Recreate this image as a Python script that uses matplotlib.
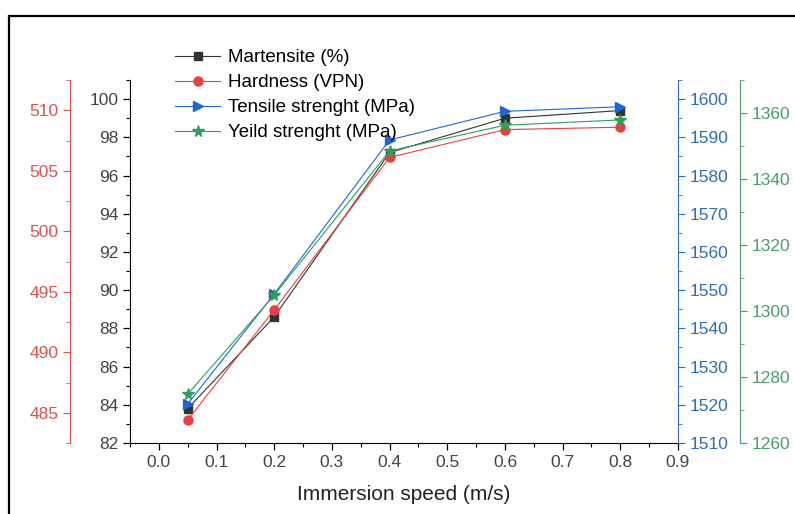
import matplotlib
matplotlib.use("Agg")
import matplotlib.pyplot as plt
from matplotlib.patches import Rectangle
from matplotlib.ticker import MultipleLocator

plt.rcParams['font.family'] = ['Liberation Sans', 'DejaVu Sans']

# Datos
speed = [0.05, 0.2, 0.4, 0.6, 0.8]
martensite = [83.8, 88.6, 97.2, 99.0, 99.4]
hardness = [484.4, 493.5, 506.1, 508.4, 508.6]
tensile = [1520.2, 1549.0, 1589.3, 1596.8, 1598.0]
yield_str = [1274.8, 1304.8, 1348.5, 1356.3, 1357.9]

c_black = '#333333'
c_red = '#e8413f'
c_blue = '#1f66d1'
c_green = '#2e9e5a'
c_red_ax = '#d9534f'
c_blue_ax = '#2f6db5'
c_green_ax = '#4a9e6a'

fs_tick = 12.5

fig = plt.figure(figsize=(7.95, 5.14), dpi=100)
ax = fig.add_axes([130/795, 1-443/514, (678-130)/795, (443-80)/514])

# Marco exterior
fig.patches.append(Rectangle((9/795, -0.1), 1.2, 1-16/514+0.1, transform=fig.transFigure,
                             fill=False, lw=1.6, ec='black'))

l1, = ax.plot(speed, martensite, '-s', color=c_black, lw=0.8, ms=6, label='Martensite (%)')
ax.set_xlim(-0.05, 0.9)
ax.set_ylim(82, 101)
ax.xaxis.set_major_locator(MultipleLocator(0.1))
ax.xaxis.set_minor_locator(MultipleLocator(0.05))
ax.yaxis.set_major_locator(MultipleLocator(2))
ax.yaxis.set_minor_locator(MultipleLocator(1))
ax.set_xticks([0.0, 0.1, 0.2, 0.3, 0.4, 0.5, 0.6, 0.7, 0.8, 0.9])
ax.set_xticklabels(['0.0', '0.1', '0.2', '0.3', '0.4', '0.5', '0.6', '0.7', '0.8', '0.9'])
ax.spines['top'].set_visible(False)
ax.spines['right'].set_visible(False)
ax.tick_params(axis='both', which='major', direction='out', length=5, width=0.9,
               labelsize=fs_tick, labelcolor='#444444')
ax.tick_params(axis='both', which='minor', direction='out', length=3, width=0.8)
ax.set_xlabel('Immersion speed (m/s)', fontsize=15, color='#222222', labelpad=11)
ax.patch.set_visible(False)

# Eje rojo (dureza)
ax_r = ax.twinx()
l2, = ax_r.plot(speed, hardness, '-o', color=c_red, lw=0.8, ms=6.5, label='Hardness (VPN)')
ax_r.set_ylim(482.5, 512.5)
ax_r.yaxis.set_major_locator(MultipleLocator(5))
ax_r.yaxis.set_minor_locator(MultipleLocator(2.5))
ax_r.yaxis.set_ticks_position('left')
ax_r.yaxis.set_label_position('left')
for s in ['top', 'right', 'bottom']:
    ax_r.spines[s].set_visible(False)
ax_r.spines['left'].set_visible(True)
ax_r.spines['left'].set_position(('outward', 43))
ax_r.spines['left'].set_color(c_red_ax)
ax_r.tick_params(axis='y', which='both', colors=c_red_ax, labelsize=fs_tick)
ax_r.tick_params(axis='y', which='major', length=5)
ax_r.tick_params(axis='y', which='minor', length=3)

# Eje azul (resistencia a la tracción)
ax_b = ax.twinx()
l3, = ax_b.plot(speed, tensile, '->', color=c_blue, lw=0.8, ms=7.5, label='Tensile strenght (MPa)')
ax_b.set_ylim(1510, 1605)
ax_b.yaxis.set_major_locator(MultipleLocator(10))
ax_b.yaxis.set_minor_locator(MultipleLocator(5))
for s in ['top', 'left', 'bottom']:
    ax_b.spines[s].set_visible(False)
ax_b.spines['right'].set_color(c_blue_ax)
ax_b.tick_params(axis='y', which='both', colors=c_blue_ax, labelsize=fs_tick)
ax_b.tick_params(axis='y', which='major', length=5)
ax_b.tick_params(axis='y', which='minor', length=3)

# Eje verde (límite elástico)
ax_g = ax.twinx()
l4, = ax_g.plot(speed, yield_str, '-*', color=c_green, lw=0.8, ms=8.5, label='Yeild strenght (MPa)')
ax_g.set_ylim(1260, 1370)
ax_g.yaxis.set_major_locator(MultipleLocator(20))
ax_g.yaxis.set_minor_locator(MultipleLocator(10))
for s in ['top', 'left', 'bottom']:
    ax_g.spines[s].set_visible(False)
ax_g.spines['right'].set_position(('outward', 44.6))
ax_g.spines['right'].set_color(c_green_ax)
ax_g.tick_params(axis='y', which='both', colors=c_green_ax, labelsize=fs_tick)
ax_g.tick_params(axis='y', which='major', length=5)
ax_g.tick_params(axis='y', which='minor', length=3)

fig.legend(handles=[l1, l2, l3, l4], loc='upper left', bbox_to_anchor=(175/795, 1-49/514),
           frameon=False, fontsize=13.5, handlelength=2.4, handletextpad=0.4,
           labelspacing=0.42, borderaxespad=0, borderpad=0)

fig.savefig('out.png', dpi=100)
